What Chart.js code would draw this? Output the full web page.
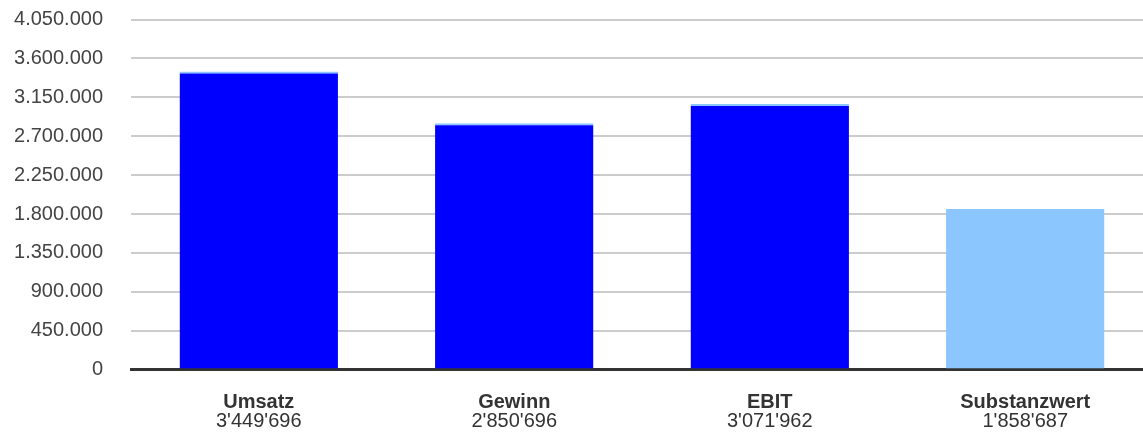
<!DOCTYPE html>
<html>
<head>
<meta charset="utf-8">
<script src="https://cdn.jsdelivr.net/npm/chart.js@4/dist/chart.umd.min.js"></script>
<style>
  html, body { margin: 0; padding: 0; background: #fff; overflow: hidden; }
  #wrap { width: 1153px; height: 435px; position: relative; }
</style>
</head>
<body>
<div id="wrap"><canvas id="chart"></canvas></div>
<script>
// Kennzahlen
const categories = ['Umsatz', 'Gewinn', 'EBIT', 'Substanzwert'];
const values = [3449696, 2850696, 3071962, 1858687];
const yMin = 0;
const yMax = 4050000;
const yStep = 450000;

const DARK_BLUE = '#0000FF';
const LIGHT_BLUE = '#8CC6FF';
const barFill = [DARK_BLUE, DARK_BLUE, DARK_BLUE, LIGHT_BLUE];

const FONT = '"Liberation Sans", Arial, sans-serif';

// 3'449'696
function swissFormat(n) {
  return String(n).replace(/\B(?=(\d{3})+(?!\d))/g, "'");
}
// 4.050.000
function dotFormat(n) {
  return String(n).replace(/\B(?=(\d{3})+(?!\d))/g, '.');
}

new Chart(document.getElementById('chart'), {
  type: 'bar',
  data: {
    labels: categories,
    datasets: [{
      data: values,
      backgroundColor: barFill,
      borderColor: LIGHT_BLUE,
      borderWidth: { top: 2, left: 0, right: 0, bottom: 0 },
      borderSkipped: false,
      categoryPercentage: 1,
      barPercentage: 0.62
    }]
  },
  options: {
    responsive: true,
    maintainAspectRatio: false,
    animation: false,
    layout: { padding: { top: 19.5, right: 0, bottom: 0, left: 0 } },
    plugins: { legend: { display: false }, tooltip: { enabled: false } },
    scales: {
      y: {
        min: yMin,
        max: yMax,
        afterFit: s => { s.width = 131; s.paddingTop = 0; s.paddingBottom = 0; },
        ticks: {
          stepSize: yStep,
          padding: 28,
          color: '#444',
          font: { family: FONT, size: 20 },
          callback: v => dotFormat(v)
        },
        grid: { color: '#cccccc', lineWidth: 2, drawTicks: false },
        border: { display: false }
      },
      x: {
        type: 'category',
        position: 'bottom',
        weight: 0,
        afterFit: s => { s.height = 42; },
        grid: { display: false, drawTicks: false },
        border: { display: true, color: '#333333', width: 3 },
        ticks: {
          padding: 20.4,
          color: '#333',
          font: { family: FONT, size: 20, weight: 'bold' }
        }
      },
      x2: {
        type: 'category',
        position: 'bottom',
        weight: 1,
        labels: values.map(swissFormat),
        offset: true,
        afterFit: s => { s.height = 23.4; },
        grid: { display: false, drawTicks: false },
        border: { display: false },
        ticks: {
          padding: -2.6,
          color: '#333',
          font: { family: FONT, size: 20 }
        }
      }
    }
  }
});
</script>
</body>
</html>
